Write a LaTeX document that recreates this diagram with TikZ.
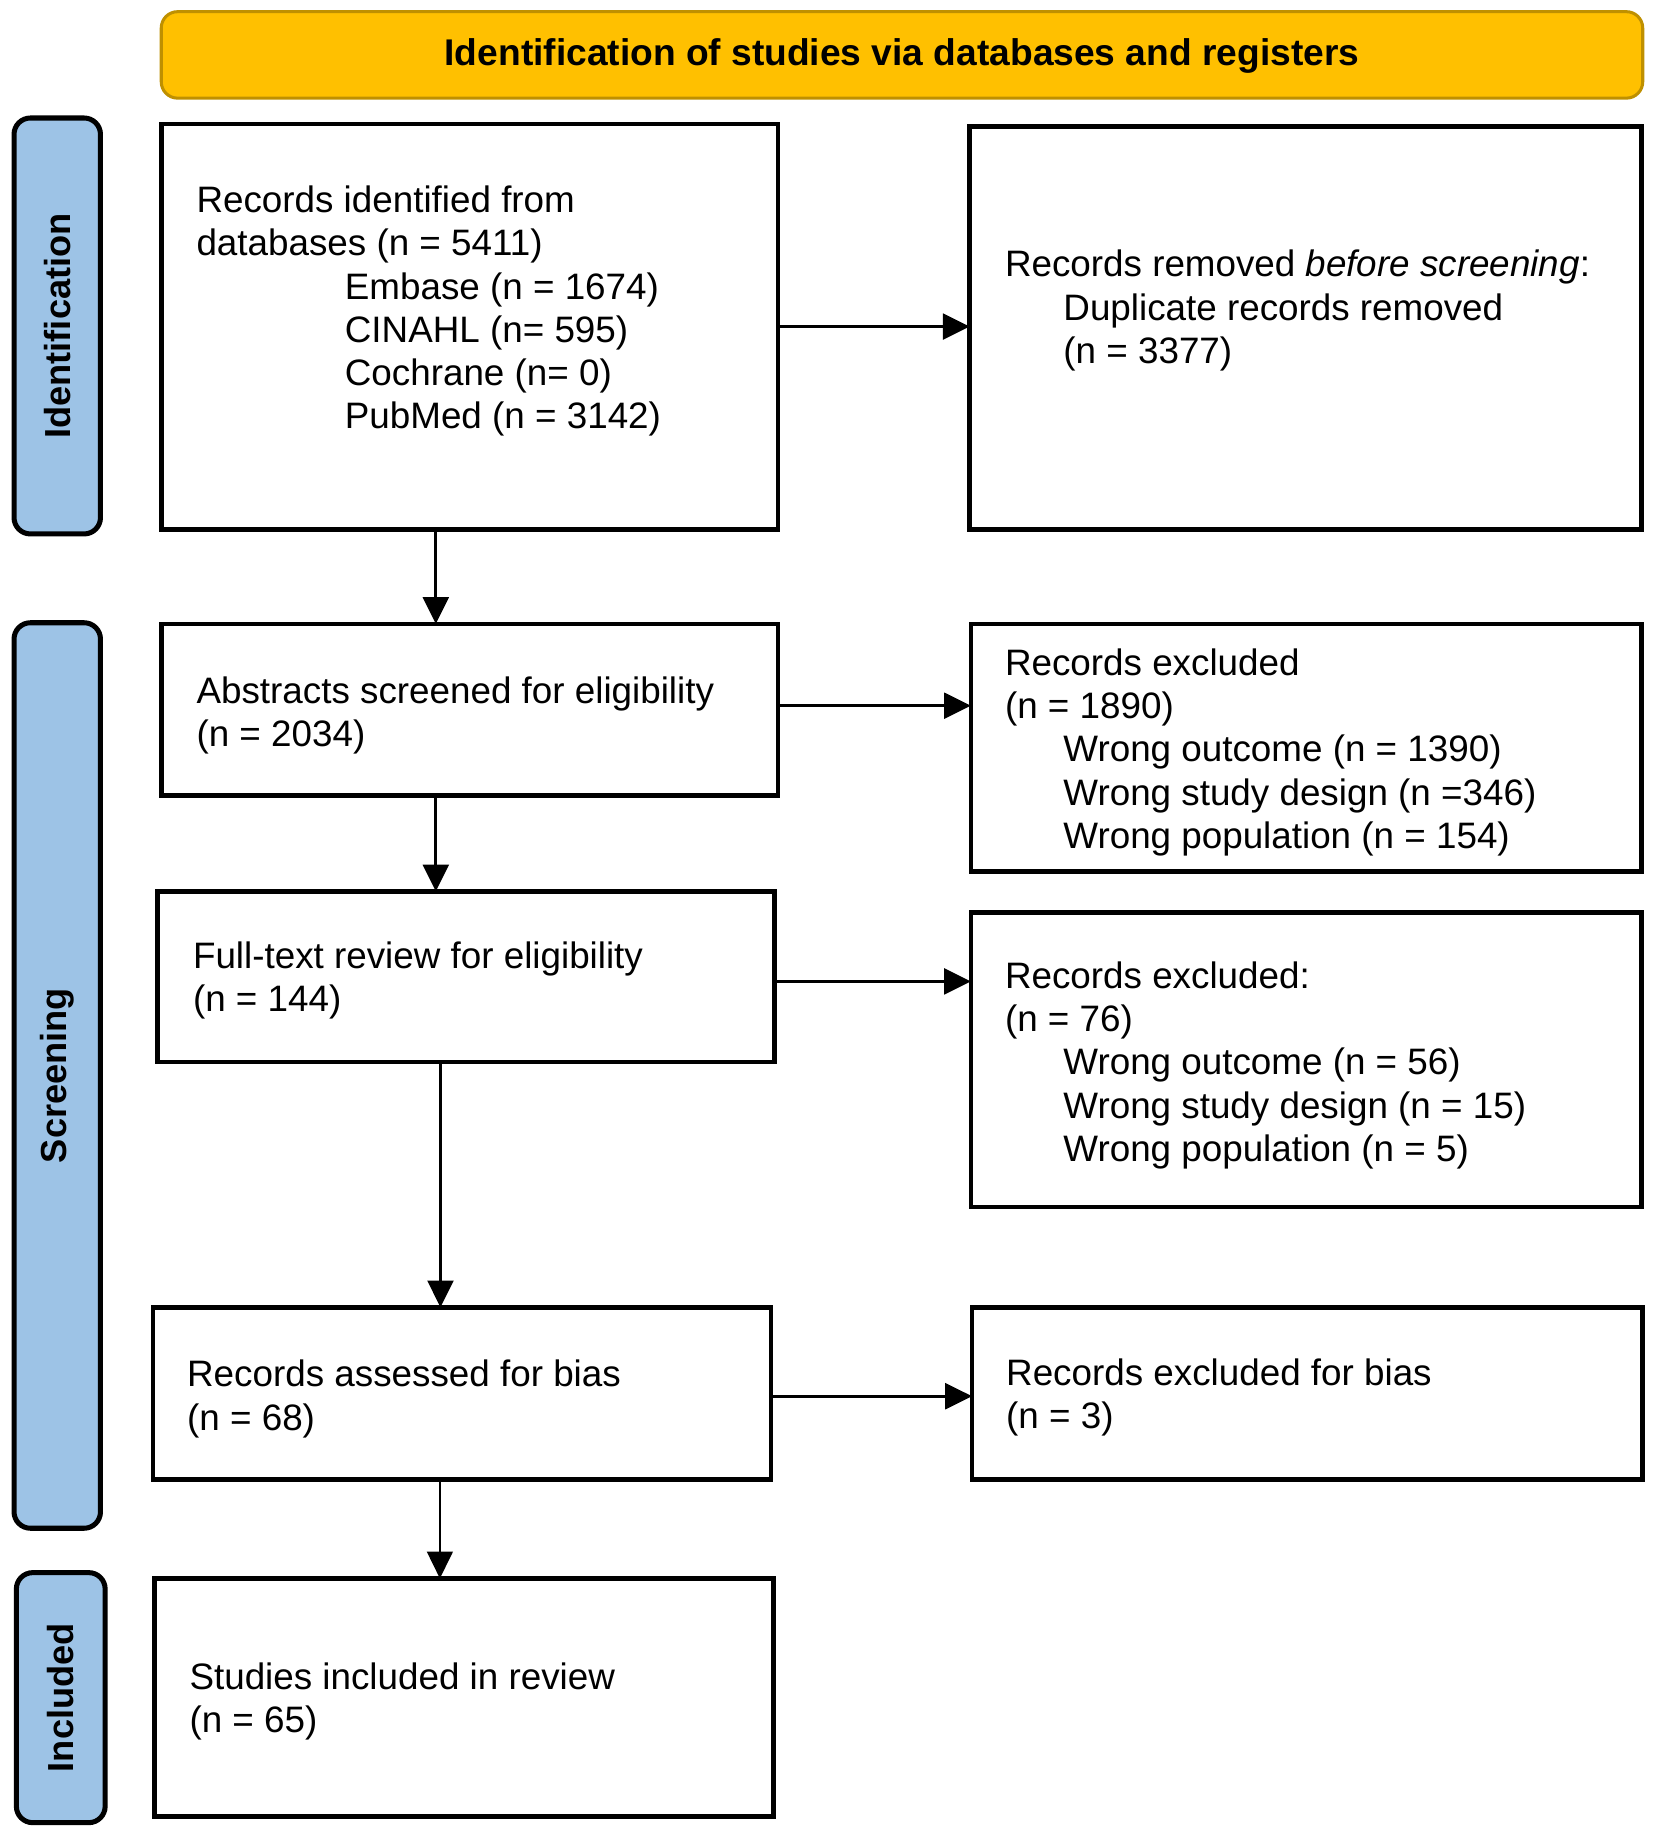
\documentclass[tikz,border=0pt]{standalone}
\usepackage{fontspec}
\setmainfont{Liberation Sans}
\usetikzlibrary{arrows.meta,calc}
\definecolor{hdrfill}{HTML}{FFC000}
\definecolor{hdrdraw}{HTML}{BF9000}
\definecolor{sidefill}{HTML}{9DC3E6}
\tikzset{
  boxstyle/.style={draw=black,line width=4pt,fill=white,inner sep=0pt,outer sep=0pt,rectangle},
  hdrstyle/.style={draw=hdrdraw,line width=2.6pt,fill=hdrfill,rounded corners=14pt,inner sep=0pt,outer sep=0pt},
  hdrtext/.style={inner sep=0pt,font=\fontsize{31.8}{37}\selectfont\bfseries},
  sidestyle/.style={draw=black,line width=4.3pt,fill=sidefill,rounded corners=14pt,inner sep=0pt,outer sep=0pt},
  sidetext/.style={rotate=90,font=\fontsize{31}{37}\selectfont\bfseries,inner sep=0pt},
  txt/.style={anchor=base west,align=left,inner sep=0pt,font=\fontsize{31.5}{37}\selectfont},
  arr/.style={line width=2.8pt,-{Triangle[length=23pt,width=22pt]}},
}
\begin{document}
\begin{tikzpicture}[x=1pt,y=-1pt]
\useasboundingbox (0,0) rectangle (1416,1568);
% header
\node[hdrstyle,minimum width=1268pt,minimum height=74pt] (hdr) at (772,47) {};
\node[hdrtext] (hdrt) at (772,48) {Identification of studies via databases and registers};
% side labels
\node[sidestyle,minimum width=74pt,minimum height=356pt] (s1) at (49,279) {};
\node[sidetext] (s1t) at (s1) {Identification};
\node[sidestyle,minimum width=74pt,minimum height=775pt] (s2) at (49,920.5) {};
\node[sidetext] (s2t) at (s2) {Screening};
\node[sidestyle,minimum width=76pt,minimum height=214pt] (s3) at (52,1453) {};
\node[sidetext] (s3t) at (s3) {Included};
% boxes
\node[boxstyle,minimum width=528pt,minimum height=347pt] (b1) at (402,279.5) {};
\node[boxstyle,minimum width=575pt,minimum height=345pt] (b2) at (1117.5,280.5) {};
\node[boxstyle,minimum width=528pt,minimum height=147pt] (b3) at (402,607.5) {};
\node[boxstyle,minimum width=574pt,minimum height=212pt] (b4) at (1118,640) {};
\node[boxstyle,minimum width=528pt,minimum height=146pt] (b5) at (399,836) {};
\node[boxstyle,minimum width=574pt,minimum height=252pt] (b6) at (1118,907) {};
\node[boxstyle,minimum width=529pt,minimum height=147pt] (b7) at (395.5,1192.5) {};
\node[boxstyle,minimum width=574pt,minimum height=147pt] (b8) at (1119,1192.5) {};
\node[boxstyle,minimum width=530pt,minimum height=204pt] (b9) at (397,1453) {};
% texts (anchor = baseline of last line)
\node[txt] (t1) at (168,367) {Records identified from\\databases (n = 5411)\\\hspace*{127pt}Embase (n = 1674)\\\hspace*{127pt}CINAHL (n= 595)\\\hspace*{127pt}Cochrane (n= 0)\\\hspace*{127pt}PubMed (n = 3142)};
\node[txt] (t2) at (860,311) {Records removed \textit{before screening}:\\\hspace*{50pt}Duplicate records removed\\\hspace*{50pt}(n = 3377)};
\node[txt] (t3) at (168,639) {Abstracts screened for eligibility\\(n = 2034)};
\node[txt] (t4) at (860,726) {Records excluded\\(n = 1890)\\\hspace*{50pt}Wrong outcome (n = 1390)\\\hspace*{50pt}Wrong study design (n =346)\\\hspace*{50pt}Wrong population (n = 154)};
\node[txt] (t5) at (165,866) {Full-text review for eligibility\\(n = 144)};
\node[txt] (t6) at (860,994) {Records excluded:\\(n = 76)\\\hspace*{50pt}Wrong outcome (n = 56)\\\hspace*{50pt}Wrong study design (n = 15)\\\hspace*{50pt}Wrong population (n = 5)};
\node[txt] (t7) at (160,1224) {Records assessed for bias\\(n = 68)};
\node[txt] (t8) at (861,1223) {Records excluded for bias\\(n = 3)};
\node[txt] (t9) at (162,1483) {Studies included in review\\(n = 65)};
% horizontal arrows
\draw[arr] (b1.east) -- (b1.east -| b2.west);
\draw[arr] ([yshift=3.5pt]b3.east) -- ([yshift=3.5pt]b3.east -| b4.west);
\draw[arr] ([yshift=-4pt]b5.east) -- ([yshift=-4pt]b5.east -| b6.west);
\draw[arr] ([yshift=-2.5pt]b7.east) -- ([yshift=-2.5pt]b7.east -| b8.west);
% vertical arrows
\draw[arr] ([xshift=-29pt]b1.south) -- ([xshift=-29pt]b1.south |- b3.north);
\draw[arr] ([xshift=-29pt]b3.south) -- ([xshift=-29pt]b3.south |- b5.north);
\draw[arr] ([xshift=-22pt]b5.south) -- ([xshift=-22pt]b5.south |- b7.north);
\draw[arr,line width=2pt] ([xshift=-19pt]b7.south) -- ([xshift=-19pt]b7.south |- b9.north);
\end{tikzpicture}
\end{document}
